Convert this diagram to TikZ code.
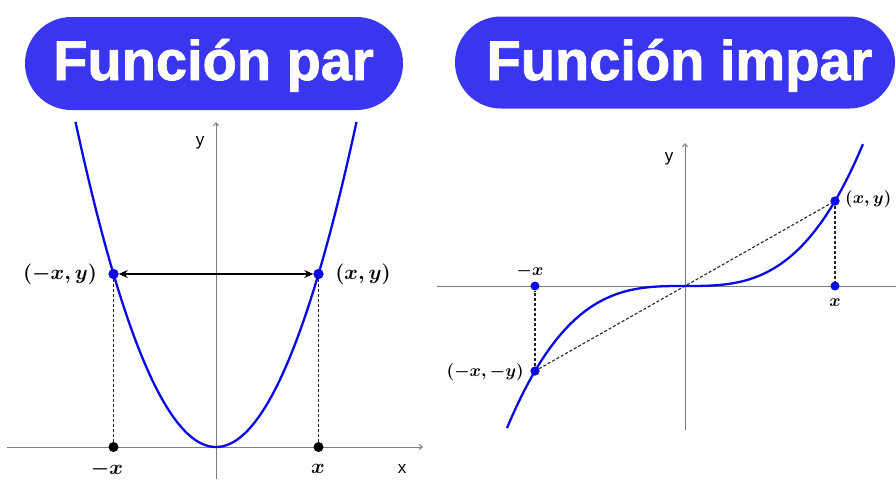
\documentclass[tikz,border=0pt]{standalone}
\usepackage{fontspec}
\usetikzlibrary{arrows.meta,shapes.misc}
\newfontfamily\titlefont{Liberation Sans}[BoldFeatures={FakeBold=1.5}]
\newfontfamily\axfont{Liberation Sans}
\definecolor{pillblue}{RGB}{58,54,240}
\definecolor{curveblue}{RGB}{10,10,230}
\definecolor{axisgray}{RGB}{125,125,125}
\begin{document}
\begin{tikzpicture}[x=1pt,y=-1pt,
  pill/.style={rounded rectangle, fill=pillblue, inner sep=0pt},
  title/.style={text=white, font=\titlefont\bfseries\fontsize{56}{60}\selectfont, anchor=base, inner sep=0pt},
  axis/.style={draw=axisgray, line width=1pt},
  axisarrow/.style={axis, -{Straight Barb[length=3pt,width=5pt]}},
  curve/.style={draw=curveblue, line width=2.3pt},
  bdot/.style={circle, fill=curveblue, inner sep=0pt, minimum size=10pt},
  kdot/.style={circle, fill=black, inner sep=0pt, minimum size=10pt},
  guide/.style={draw=black!85, line width=1.1pt, dash pattern=on 3pt off 2pt},
  lbl/.style={font=\boldmath\fontsize{20}{24}\selectfont, inner sep=0pt},
  lbls/.style={font=\boldmath\fontsize{18}{22}\selectfont, inner sep=0pt},
  axlbl/.style={font=\axfont\fontsize{17}{20}\selectfont, inner sep=0pt},
]
\useasboundingbox (0,0) rectangle (896,479);
\fill[white] (0,0) rectangle (896,479);

% ---------- titles ----------
\node[pill, minimum width=378pt, minimum height=93pt] (pillL) at (214,63.5) {};
\node[title] (titleL) at (213.5,80) {Función par};
\node[pill, minimum width=440pt, minimum height=92pt] (pillR) at (675,62.5) {};
\node[title] (titleR) at (679.5,80) {Función impar};

% ---------- even function ----------
\coordinate (LxS) at (7,447);
\coordinate (LxE) at (423,447);
\coordinate (LyS) at (216,479);
\coordinate (LyE) at (216,122);
\draw[axisarrow] (LxS) -- (LxE);
\draw[axisarrow] (LyS) -- (LyE);
\node[axlbl] (Ly) at (200,143) {y};
\node[axlbl] (Lx) at (402,469) {x};

\node[bdot] (A) at (113.5,274) {};
\node[bdot] (B) at (318.5,274) {};
\node[kdot] (A0) at (113.5,447) {};
\node[kdot] (B0) at (318.5,447) {};
\draw[guide] (A) -- (A0);
\draw[guide] (B) -- (B0);
\draw[curve] plot[domain=-1.371:1.371, samples=100] ({216+102.5*\x},{447-173*\x*\x});
\node[bdot] at (A) {};
\node[bdot] at (B) {};
\draw[line width=1.5pt, {Stealth[length=9pt,width=8pt]}-{Stealth[length=9pt,width=8pt]}] (A) -- (B);
\node[lbl] (Alab) at (60,274) {$(-x,y)$};
\node[lbl] (Blab) at (363,274) {$(x,y)$};
\node[lbl] (A0lab) at (107,469) {$-x$};
\node[lbl] (B0lab) at (318,469) {$x$};

% ---------- odd function ----------
\coordinate (RxS) at (437,286);
\coordinate (RxE) at (896,286);
\coordinate (RyS) at (685,430);
\coordinate (RyE) at (685,143);
\draw[axis] (RxS) -- (RxE);
\draw[axisarrow] (RyS) -- (RyE);
\node[axlbl] (Ry) at (669,159) {y};

\node[bdot, minimum size=9pt] (C) at (835,201) {};
\node[bdot, minimum size=9pt] (D) at (535,371) {};
\node[bdot, minimum size=9pt] (C0) at (835,286) {};
\node[bdot, minimum size=9pt] (D0) at (535,286) {};
\draw[guide] (C) -- (C0);
\draw[guide] (D) -- (D0);
\draw[guide] (D) -- (C);
\draw[curve] plot[domain=-1.187:1.187, samples=100] ({685+150*\x},{286-85*\x*\x*\x});
\node[bdot, minimum size=9pt] at (C) {};
\node[bdot, minimum size=9pt] at (D) {};
\node[lbls, anchor=west] (Clab) at (845,199) {$(x,y)$};
\node[lbls, anchor=east] (Dlab) at (524,372) {$(-x,-y)$};
\node[lbls] (D0lab) at (530,271) {$-x$};
\node[lbls] (C0lab) at (835,303) {$x$};
\end{tikzpicture}
\end{document}
